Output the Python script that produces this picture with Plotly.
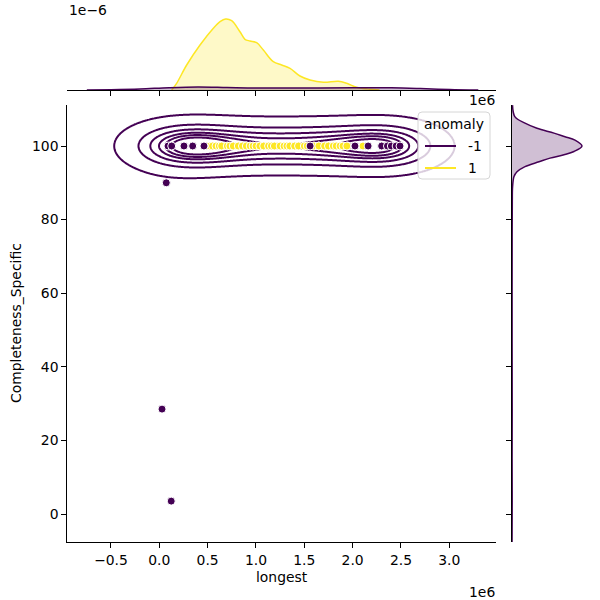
import numpy as np
import plotly.graph_objects as go

PURPLE = "#440154"
YELLOW = "#fde725"
PURPLE_FILL = "rgba(68,1,84,0.25)"
YELLOW_FILL = "rgba(253,231,37,0.25)"
FONT = "DejaVu Sans"
FS = 13.9

# ---------------- data ----------------
# anomaly = 1 (all at Completeness_Specific = 100)
yellow_x = [0.524e6, 0.55e6, 0.586e6, 0.62e6, 0.645e6, 0.703e6, 0.73e6, 0.765e6, 0.817e6,
            0.86e6, 0.90e6, 0.94e6, 0.97e6, 1.00e6, 1.04e6, 1.08e6, 1.13e6, 1.16e6, 1.19e6,
            1.25e6, 1.29e6, 1.32e6, 1.35e6, 1.40e6, 1.44e6, 1.50e6, 1.53e6, 1.60e6, 1.65e6,
            1.71e6, 1.75e6, 1.80e6, 1.83e6, 1.87e6, 1.90e6, 1.94e6, 2.107e6]
yellow_y = [100] * len(yellow_x)

# anomaly = -1, points hidden under the yellow markers (with KDE weights)
purple_under_x = [0.60e6, 0.75e6, 0.90e6, 1.05e6, 1.20e6, 1.35e6, 1.50e6, 1.65e6, 1.80e6, 1.95e6]
purple_under_y = [100] * len(purple_under_x)
purple_under_w = [11, 11, 11, 10, 10, 10, 10, 10, 10, 11]

# anomaly = -1, visible markers (with KDE weights)
purple_x = [0.09e6, 0.128e6, 0.255e6, 0.345e6, 0.462e6, 1.56e6, 2.024e6, 2.16e6, 2.30e6,
            2.36e6, 2.40e6, 2.45e6, 2.49e6, 0.072e6, 0.028e6, 0.123e6]
purple_y = [100, 100, 100, 100, 100, 100, 100, 100, 100, 100, 100, 100, 100, 90, 28.5, 3.5]
purple_w = [10, 14, 14, 14, 13, 2, 9, 9, 9, 9, 9, 9, 11, 1, 1, 1]

# marginal density of 'longest' (units 1e-6)
ytop_x = [0.128e6, 0.179e6, 0.283e6, 0.421e6, 0.559e6, 0.628e6, 0.686e6, 0.748e6, 0.834e6,
          0.886e6, 0.938e6, 1.007e6, 1.076e6, 1.179e6, 1.266e6, 1.352e6, 1.455e6, 1.559e6,
          1.697e6, 1.852e6, 1.938e6, 2.041e6, 2.179e6, 2.279e6]
ytop_d = [0.0, 0.067, 0.25, 0.45, 0.617, 0.683, 0.71, 0.693, 0.583, 0.507, 0.49, 0.473,
          0.40, 0.283, 0.25, 0.217, 0.14, 0.10, 0.077, 0.087, 0.067, 0.027, 0.007, 0.0]
ptop_x = [-0.75e6, -0.5e6, -0.2e6, 0.1e6, 0.4e6, 0.7e6, 1.0e6, 1.5e6, 2.0e6, 2.4e6,
          2.7e6, 3.0e6, 3.3e6]
ptop_d = [0.0, 0.003, 0.01, 0.023, 0.03, 0.025, 0.02, 0.02, 0.022, 0.022, 0.015, 0.005, 0.0]

# marginal density of 'Completeness_Specific' (anomaly = -1)
pright_y = [111.1, 107.9, 106.2, 104.8, 103.5, 102.5, 101.6, 100.0, 98.5, 97.6, 96.7,
            95.7, 94.4, 93.0, 91.7, 89.0, 85.0, 75.0, 50.0, 28.5, 15.0, 3.5, -7.6]
pright_d = [0.0001, 0.0006, 0.0026, 0.005, 0.0084, 0.0106, 0.0126, 0.0140, 0.0124, 0.0104,
            0.0076, 0.0054, 0.0026, 0.001, 0.0004, 0.00012, 0.00006, 0.00003, 0.00002,
            0.00004, 0.00002, 0.00004, 0.00001]

x_tick_vals = [-0.5e6, 0.0, 0.5e6, 1.0e6, 1.5e6, 2.0e6, 2.5e6, 3.0e6]
x_tick_text = ["\u22120.5", "0.0", "0.5", "1.0", "1.5", "2.0", "2.5", "3.0"]
y_tick_vals = [0, 20, 40, 60, 80, 100]
y_tick_text = ["0", "20", "40", "60", "80", "100"]

legend_title = "anomaly"
legend_labels = ["-1", "1"]
legend_colors = [PURPLE, YELLOW]

# ---------------- bivariate KDE for anomaly = -1 ----------------
kde_x = np.array(purple_under_x + purple_x, dtype=float)
kde_y = np.array(purple_under_y + purple_y, dtype=float)
kde_w = np.array(purple_under_w + purple_w, dtype=float)
bw_x, bw_y = 0.30e6, 3.7
gx = np.linspace(-0.95e6, 3.48e6, 400)
gy = np.linspace(-7.6, 111.1, 800)
kx = np.exp(-0.5 * ((gx[None, :] - kde_x[:, None]) / bw_x) ** 2)
ky = np.exp(-0.5 * ((gy[None, :] - kde_y[:, None]) / bw_y) ** 2)
dens = ky.T @ (kde_w[:, None] * kx)
# iso-proportion levels
iso = np.linspace(0.05, 1, 7)
sv = np.sort(dens.ravel())[::-1]
cum = np.cumsum(sv) / sv.sum()
levels = np.take(sv, np.searchsorted(cum, 1 - iso), mode="clip")[:-1]

fig = go.Figure()
for lv in levels:
    fig.add_trace(go.Contour(
        x=gx, y=gy, z=dens, xaxis="x", yaxis="y",
        contours=dict(start=float(lv), end=float(lv), size=float(lv), coloring="none"),
        line=dict(color=PURPLE, width=2, smoothing=1), showscale=False,
        showlegend=False, hoverinfo="skip"))

mk = dict(size=8, line=dict(color="white", width=1))
fig.add_trace(go.Scatter(x=purple_under_x, y=purple_under_y, mode="markers",
                         marker=dict(color=PURPLE, **mk), showlegend=False))
fig.add_trace(go.Scatter(x=yellow_x, y=yellow_y, mode="markers",
                         marker=dict(color=YELLOW, **mk), showlegend=False))
fig.add_trace(go.Scatter(x=purple_x, y=purple_y, mode="markers",
                         marker=dict(color=PURPLE, **mk), showlegend=False))

# top marginal
fig.add_trace(go.Scatter(x=ytop_x, y=ytop_d, xaxis="x2", yaxis="y2", mode="lines",
                         line=dict(color=YELLOW, width=1.5, shape="spline"),
                         fill="tozeroy", fillcolor=YELLOW_FILL, showlegend=False))
fig.add_trace(go.Scatter(x=ptop_x, y=ptop_d, xaxis="x2", yaxis="y2", mode="lines",
                         line=dict(color=PURPLE, width=1.5, shape="spline"),
                         fill="tozeroy", fillcolor=PURPLE_FILL, showlegend=False))
# right marginal
fig.add_trace(go.Scatter(x=pright_d, y=pright_y, xaxis="x3", yaxis="y3", mode="lines",
                         line=dict(color=PURPLE, width=1.5, shape="spline"),
                         fill="tozerox", fillcolor=PURPLE_FILL, showlegend=False))

ax_style = dict(showline=True, linecolor="black", linewidth=1, ticks="outside",
                ticklen=5, tickwidth=1, tickcolor="black", showgrid=False,
                zeroline=False, tickfont=dict(family=FONT, size=FS, color="black"))

W = 600.0


def px(x):
    return x / W


def py(y):
    return 1 - y / W


# legend box (matplotlib style, rounded corners)
L, T, R, B, rr = 418, 112, 490, 179, 4
box_path = (f"M {px(L + rr)},{py(T)} L {px(R - rr)},{py(T)} Q {px(R)},{py(T)} {px(R)},{py(T + rr)} "
            f"L {px(R)},{py(B - rr)} Q {px(R)},{py(B)} {px(R - rr)},{py(B)} "
            f"L {px(L + rr)},{py(B)} Q {px(L)},{py(B)} {px(L)},{py(B - rr)} "
            f"L {px(L)},{py(T + rr)} Q {px(L)},{py(T)} {px(L + rr)},{py(T)} Z")
shapes = [dict(type="path", path=box_path, xref="paper", yref="paper",
               fillcolor="rgba(255,255,255,0.8)", line=dict(color="#d6d6d6", width=1))]
annotations = [dict(text=legend_title, x=px((L + R) / 2), y=py(124), xref="paper",
                    yref="paper", showarrow=False, xanchor="center", yanchor="middle")]
for i, (lab, col) in enumerate(zip(legend_labels, legend_colors)):
    yy = 146 + 22 * i
    shapes.append(dict(type="line", x0=px(425), x1=px(456), y0=py(yy), y1=py(yy),
                       xref="paper", yref="paper", line=dict(color=col, width=2)))
    annotations.append(dict(text=lab, x=px(466), y=py(yy), xref="paper", yref="paper",
                            showarrow=False, xanchor="left", yanchor="middle"))

annotations += [
    dict(text="longest", x=px(281.6), y=py(577), xref="paper", yref="paper",
         showarrow=False, xanchor="center", yanchor="middle"),
    dict(text="Completeness_Specific", x=px(16), y=py(323), xref="paper",
         yref="paper", showarrow=False, textangle=-90, xanchor="center", yanchor="middle"),
    dict(text="1e6", x=px(497), y=py(592), xref="paper", yref="paper",
         showarrow=False, xanchor="right", yanchor="middle"),
    dict(text="1e6", x=px(497), y=py(100), xref="paper", yref="paper",
         showarrow=False, xanchor="right", yanchor="middle"),
    dict(text="1e\u22126", x=px(67), y=1.0, xref="paper", yref="paper",
         showarrow=False, xanchor="left", yanchor="top"),
]

fig.update_layout(
    width=600, height=600, margin=dict(l=0, r=0, t=0, b=0),
    paper_bgcolor="white", plot_bgcolor="white", showlegend=False,
    font=dict(family=FONT, size=FS, color="black"),
    xaxis=dict(domain=[px(67.3), px(496)], range=[-0.952e6, 3.483e6], anchor="y",
               tickmode="array", tickvals=x_tick_vals, ticktext=x_tick_text, **ax_style),
    yaxis=dict(domain=[py(542), py(105)], range=[-7.61, 111.14], anchor="x",
               tickmode="array", tickvals=y_tick_vals, ticktext=y_tick_text, **ax_style),
    xaxis2=dict(domain=[px(67.3), px(496)], matches="x", anchor="y2", showticklabels=False,
                tickmode="array", tickvals=x_tick_vals, **ax_style),
    yaxis2=dict(domain=[py(90), py(15)], range=[0, 0.75], visible=False),
    xaxis3=dict(domain=[px(512), px(587)], range=[0, 0.015], visible=False, anchor="y3"),
    yaxis3=dict(domain=[py(542), py(105)], matches="y", anchor="x3",
                showticklabels=False, tickmode="array", tickvals=y_tick_vals, **ax_style),
    shapes=shapes,
    annotations=annotations,
)
fig.write_html("out.html")
